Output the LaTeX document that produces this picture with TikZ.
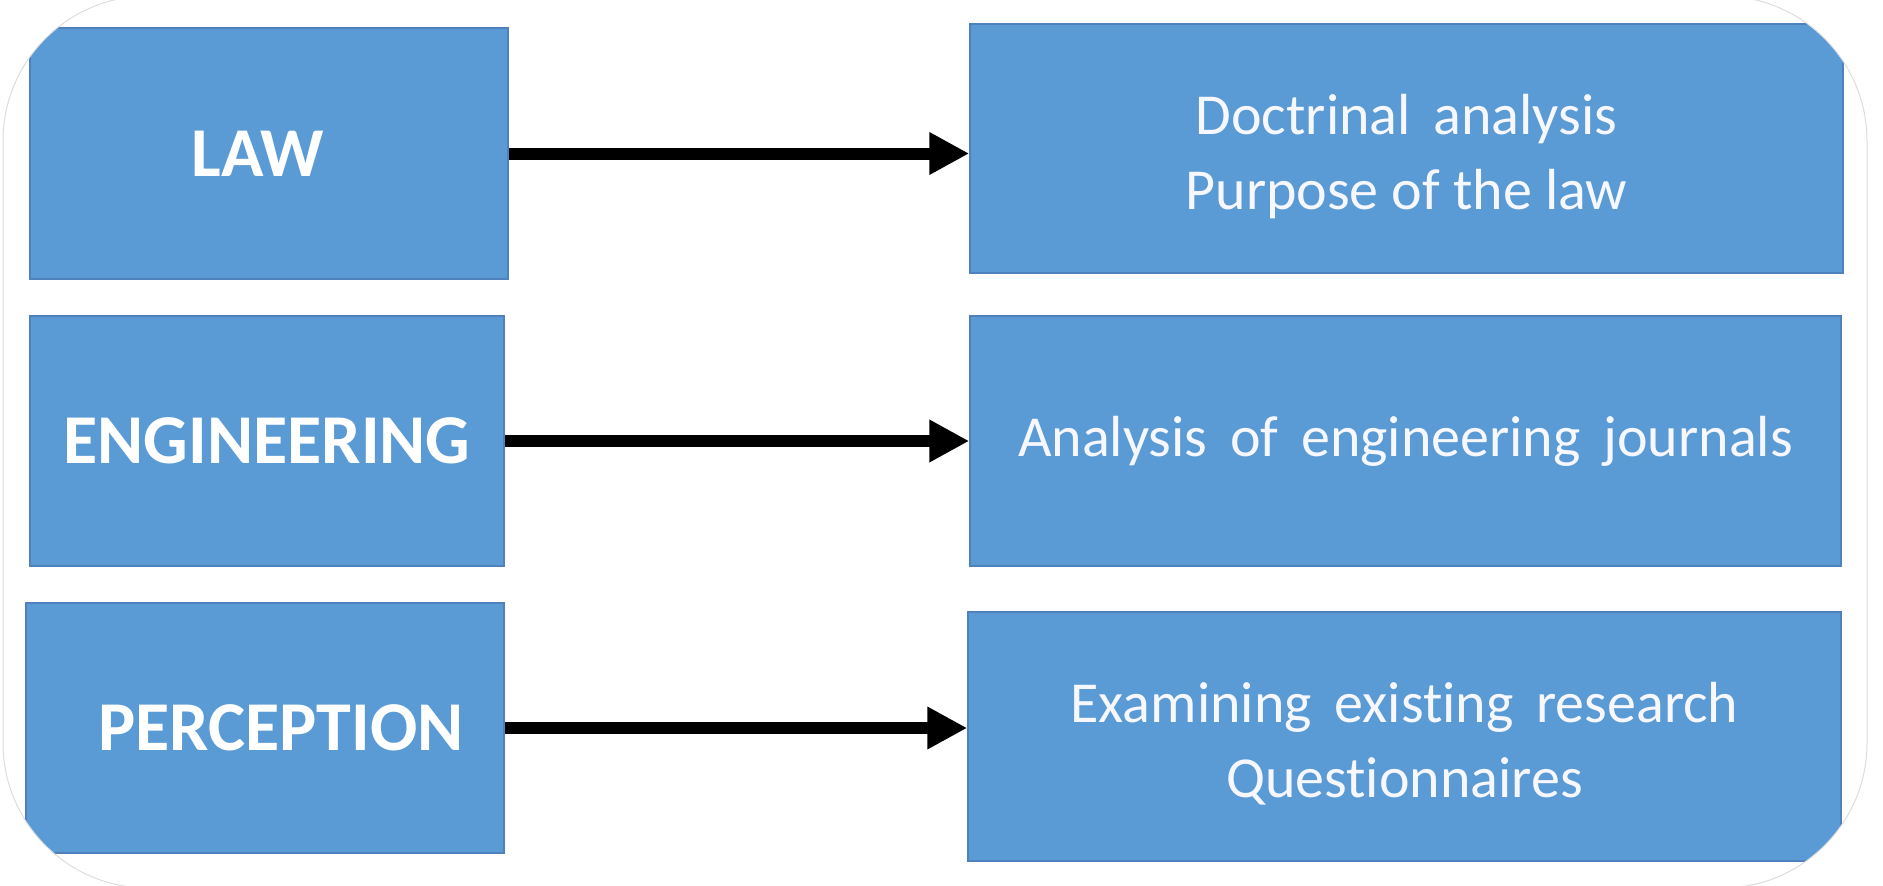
\documentclass[tikz,border=0pt]{standalone}
\usepackage{fontspec}
\setmainfont{Carlito}[Ligatures=NoCommon]
\usetikzlibrary{arrows.meta}
\definecolor{boxblue}{HTML}{5B9BD5}
\definecolor{boxedge}{HTML}{4F81BD}
\definecolor{framegray}{HTML}{DDDDDD}
\newcommand{\twolines}[2]{\raisebox{-14.5pt}[0pt][0pt]{\begin{tabular}{@{}c@{}}#1\\#2\end{tabular}}}
\tikzset{
  catbox/.style={draw=boxedge, line width=1.5pt, fill=boxblue, text=white, inner sep=0pt,
    font=\fontsize{70}{76}\selectfont\bfseries, align=center},
  descbox/.style={draw=boxedge, line width=1.5pt, fill=boxblue, text=white!97!blue, inner sep=0pt,
    font=\fontsize{58}{75}\selectfont, align=center},
  flowarrow/.style={line width=12pt, -{Triangle[length=40pt,width=40pt]}, black}
}
\begin{document}
\begin{tikzpicture}[x=1pt,y=-1pt]
\useasboundingbox (0,0) rectangle (1883,886);
\fill[white] (0,0) rectangle (1883,886);
\begin{scope}
\clip[rounded corners=145pt] (3,-4) rectangle (1867,888);
\node[catbox, minimum width=478pt, minimum height=251pt] (law) at (269,153.5) {LAW\hspace*{22pt}};
\node[catbox, minimum width=474pt, minimum height=250pt] (eng) at (267,441) {ENGINEERING};
\node[catbox, minimum width=478pt, minimum height=250pt] (per) at (265,728) {\hspace*{32pt}PERCEPTION};
\node[descbox, minimum width=873pt, minimum height=249pt] (r1) at (1406.5,148.5) {\twolines{Doctrinal\, analysis}{Purpose of the law}};
\node[descbox, minimum width=871pt, minimum height=250pt] (r2) at (1405.5,441) {Analysis\, of\, engineering\, journals};
\node[descbox, minimum width=873pt, minimum height=249pt] (r3) at (1404.5,736.5) {\twolines{Examining\, existing\, research}{Questionnaires}};
\draw[flowarrow] (law.east) -- (law.east -| r1.west);
\draw[flowarrow] (eng.east) -- (eng.east -| r2.west);
\draw[flowarrow] (per.east) -- (per.east -| r3.west);
\end{scope}
\draw[framegray, line width=1pt, rounded corners=145pt] (3,-4) rectangle (1867,888);
\end{tikzpicture}
\end{document}
